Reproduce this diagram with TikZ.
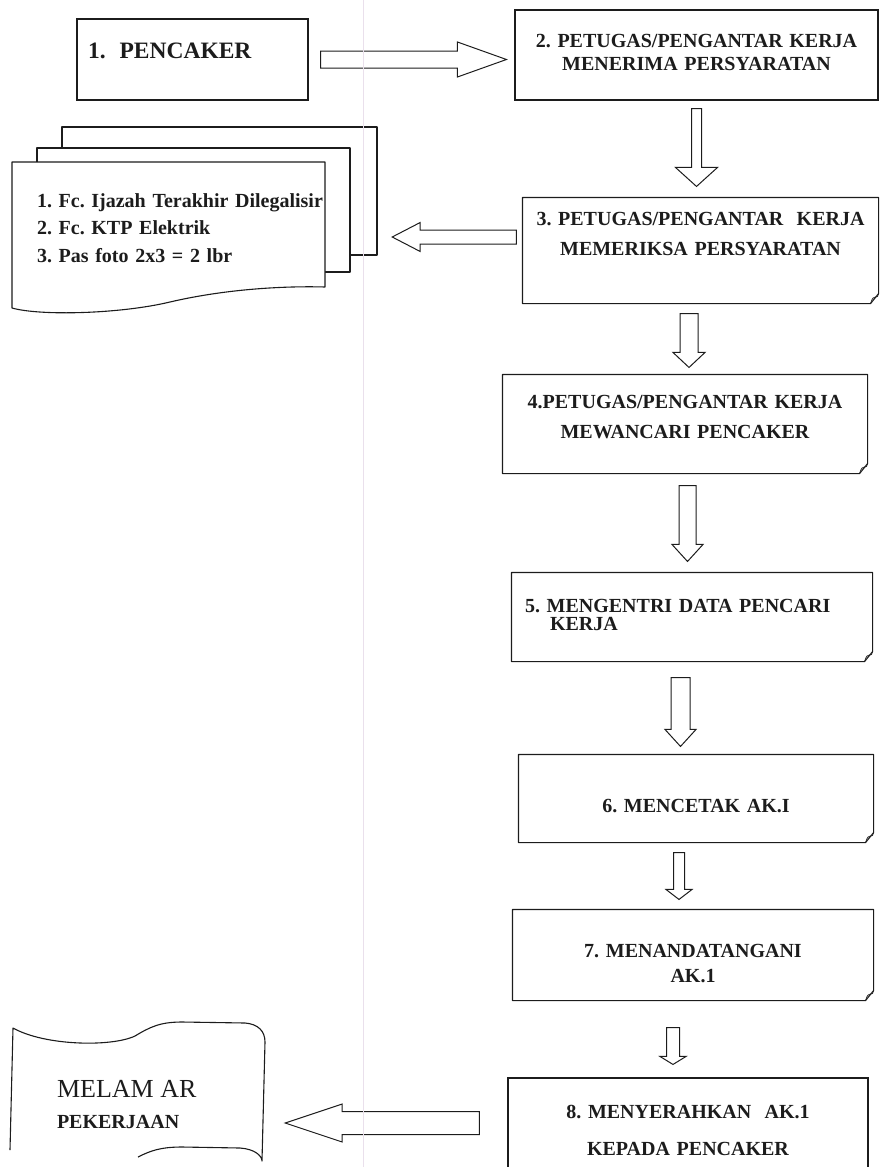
\documentclass[tikz,border=0pt]{standalone}
\usepackage{fontspec}
\setmainfont{Liberation Serif}
\usetikzlibrary{calc}
\definecolor{ink}{RGB}{28,28,28}
\definecolor{fold}{RGB}{234,224,236}
\frenchspacing

\begin{document}
\begin{tikzpicture}[
  x=1pt, y=-1pt,
  every node/.style={font=\fontsize{20}{24}\selectfont\bfseries, text=ink},
  box/.style={draw=ink, line width=1.1pt, inner sep=0pt, align=center, text width=345pt},
  curl/.style={box, draw=none},
  outl/.style={draw=ink, line width=1.1pt, line join=round},
  lift/.style={text height=0pt, text depth=#1},
  drop/.style={text height=#1, text depth=0pt},
  % hollow block arrow: half shaft, half head, head length, start gap, end gap
  hollow/.style n args={5}{outl, line width=1pt, line join=miter, to path={
    let \p1=($(\tikztotarget)-(\tikztostart)$), \n1={veclen(\x1,\y1)}, \n2={atan2(\y1,\x1)} in
    [shift={(\tikztostart)}, rotate=\n2]
    (#4,-#1) -- ({\n1-#5-#3},-#1) -- ({\n1-#5-#3},-#2) -- ({\n1-#5},0)
    -- ({\n1-#5-#3},#2) -- ({\n1-#5-#3},#1) -- (#4,#1) -- cycle}}
]
\path[use as bounding box] (0,0) rectangle (880,1167);
\clip (0,0) rectangle (880,1167);

% =================== document stack ===================
\draw[outl, fill=white] (62,127) rectangle (377,255);
\draw[outl, fill=white] (37,148) rectangle (350,272);
\draw[outl, fill=white] (12,162) -- (325,162) -- (325,287)
  .. controls (290,286) and (230,288) .. (170,302)
  .. controls (120,314) and (40,316) .. (12,308) -- cycle;
\node[align=left, text width=300pt, inner sep=0pt, lift=60pt] (docs) at (187,237)
  {1. Fc. Ijazah Terakhir Dilegalisir\\[3.5pt]2. Fc. KTP Elektrik\\[3.5pt]3. Pas foto 2x3 = 2 lbr};

% =================== flow boxes ===================
\node[box, minimum width=231pt, minimum height=81pt, text width=209pt, align=left,
      font=\fontsize{23.5}{28}\selectfont\bfseries, lift=3pt] (b1) at (192.5,59.5) {1.\hspace{14pt}PENCAKER};
\node[box, minimum width=363pt, minimum height=90pt, lift=16pt] (b2) at (696.5,55)
  {2. PETUGAS/PENGANTAR KERJA\\[-1pt]MENERIMA PERSYARATAN};
\node[curl, minimum width=355pt, minimum height=105pt, lift=51pt] (b3) at (700.5,250.5)
  {3. PETUGAS/PENGANTAR~ KERJA\\[6pt]MEMERIKSA PERSYARATAN};
\node[curl, minimum width=364pt, minimum height=98pt, lift=32pt] (b4) at (685,424)
  {4.PETUGAS/PENGANTAR KERJA\\[6pt]MEWANCARI PENCAKER};
\node[curl, minimum width=360pt, minimum height=88pt, text width=334pt, align=left, lift=10pt] (b5) at (692,617)
  {5. MENGENTRI DATA PENCARI\\[-6pt]\hspace*{25pt}KERJA};
\node[curl, minimum width=354pt, minimum height=87pt, drop=27pt] (b6) at (696,798.5) {6. MENCETAK AK.I};
\node[curl, minimum width=360pt, minimum height=90pt, drop=4pt] (b7) at (693,955)
  {7. MENANDATANGANI\\[1pt]AK.1};
\node[box, minimum width=360pt, minimum height=102pt, lift=22pt] (b8) at (688,1129)
  {8. MENYERAHKAN~ AK.1\\[13pt]KEPADA PENCAKER};

% page outlines with curled corner
\foreach \b in {b3,b4,b5,b6,b7}{
  \draw[outl] (\b.south west) -- (\b.north west) -- (\b.north east)
    -- ([yshift=10pt]\b.south east) -- ([xshift=-8pt]\b.south east) -- cycle;
  \draw[outl, line width=0.7pt] ([xshift=-8pt]\b.south east)
    .. controls ([xshift=-6pt,yshift=6pt]\b.south east) .. ([xshift=-1pt,yshift=7pt]\b.south east)
    -- ([yshift=10pt]\b.south east);
}

% =================== output sheet ===================
\node[align=left, text width=164pt, inner sep=0pt, minimum width=252pt, minimum height=130pt, drop=2pt] (mel) at (139,1096)
  {{\fontsize{26}{30}\selectfont\mdseries MELAM AR}\\[7pt]PEKERJAAN};
\draw[outl] (10,1150) -- (13,1028)
  .. controls (45,1046) and (112,1047) .. (135,1036)
  .. controls (150,1027) and (160,1022) .. (182,1022) -- (245,1023)
  .. controls (258,1024) and (265,1031) .. (265,1042)
  -- (262,1161) .. controls (262,1156) and (255,1149) .. (240,1148)
  -- (182,1147) .. controls (160,1147) and (150,1151) .. (138,1157);

% =================== arrows ===================
\draw[hollow={8.5}{17.5}{49}{12}{8}] (b1.east) to (b1.east -| b2.west);
\draw[hollow={5}{21}{19}{8}{11}] (b2.south) to (b2.south |- b3.north);
\draw[hollow={7}{14.5}{28}{6}{55}] (b3.west |- docs.east) to (docs.east);
\draw[hollow={9}{16}{15}{10}{7}] ([xshift=4pt]b4.north |- b3.south) to ([xshift=4pt]b4.north);
\draw[hollow={8.5}{15.5}{17}{12}{11}] ([xshift=2.5pt]b4.south) to ([xshift=2.5pt]b4.south |- b5.north);
\draw[hollow={9.5}{15.5}{17}{16}{8}] ([xshift=-11.5pt]b5.south) to ([xshift=-11.5pt]b5.south |- b6.north);
\draw[hollow={5.5}{13}{10}{10}{10}] ([xshift=-17pt]b6.south) to ([xshift=-17pt]b6.south |- b7.north);
\draw[hollow={6.5}{13}{8}{27}{13}] ([xshift=-20pt]b7.south) to ([xshift=-20pt]b7.south |- b8.north);
\draw[hollow={11.5}{19}{57}{28}{20}] ([yshift=6pt]b8.west) to ([yshift=6pt]b8.west -| mel.east);

% scan fold
\draw[fold, line width=1pt] (363,0) -- (363,1167);
\end{tikzpicture}
\end{document}
